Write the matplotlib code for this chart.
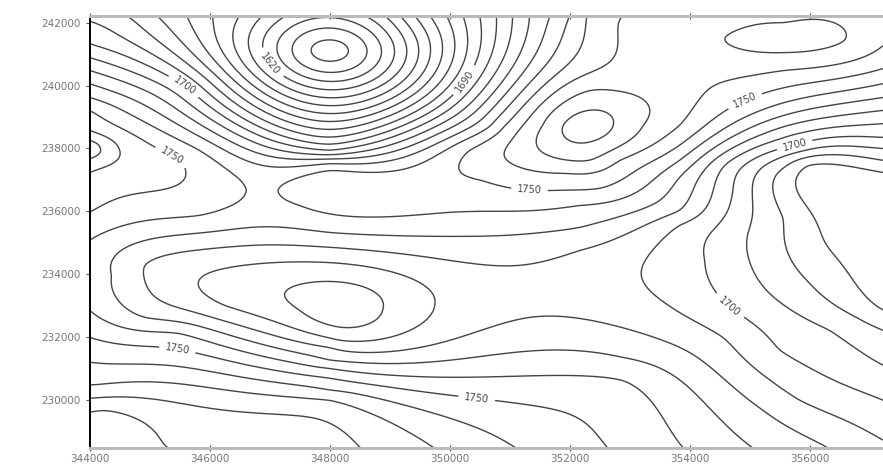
import numpy as np
import matplotlib
matplotlib.use("Agg")
import matplotlib.pyplot as plt

# spot heights (easting m, northing m, value)
ctrl_x = [
    # pit at the top
    348000, 348000, 348000, 348000,
    346050, 349420, 344000, 345580, 350780, 344000, 351670,
    344620, 345120, 345620, 346500, 346880, 347280,
    348580, 348920, 349170, 349670, 349950, 350220, 350500, 351050, 351330,
    # left edge
    344000, 344000, 344000, 344000, 344000, 344000, 344000, 344000, 344000,
    344000, 344000, 344000, 344000, 344000, 344000, 344000, 344000, 344000,
    344000, 344000, 344000, 357220,
    # high on the left edge and saddle
    344170, 344500, 345500, 346630, 345830, 345830, 346870,
    # 1740 loop
    347120, 348000, 349780, 350670, 352000, 347500, 350000, 352170, 353830, 357220,
    # 1750 hairpin
    350550, 350330, 350920, 352280, 351330, 352500, 353830, 354920, 357220,
    # 1760 around the ring
    352880, 351220, 351950, 352830, 353830, 355580, 357220, 354170, 357220,
    352830, 354170,
    # ring near 352300 / 238700
    352300, 351880, 352720, 351550, 353220, 352330, 352330,
    # ellipse top right
    355580, 354580, 356580, 355580, 355580,
    # right edge
    357220, 357220,
    # low on the right
    357220, 355970, 356500, 357000, 357220, 357220,
    355580, 355550, 356000, 356780, 357220, 357220,
    355250, 354970, 355280, 356330, 357220, 357220,
    354720, 354250, 354450, 354670, 355500, 355750, 357220, 357220,
    353200, 353830, 354580, 355670, 357220, 353530, 354550, 355830, 357220,
    # corridor and lower lines
    344920, 348000, 352170, 353830, 348000, 351330, 353550, 355220, 356280,
    344370, 348000, 352170, 353830, 344920, 348000, 351620, 352880, 355030,
    345470, 348000, 352880, 353880,
    345470, 348000, 350450, 352620,
    348000, 351080, 348000, 349720, 348000, 348500, 344220, 345280,
    # ring near 348000 / 232800
    348170, 347500, 348880, 348170, 346250, 349750, 348170, 348170,
]
ctrl_y = [
    241110, 239110, 237940, 237520,
    242220, 242220, 241330, 240000, 242220, 240060, 242220,
    242220, 242220, 242220, 242220, 242220, 242220,
    242220, 242220, 242220, 242220, 242220, 242220, 242220, 242220, 242220,
    242220, 242060, 240890, 240480, 239620, 239210, 238570, 238250, 238000,
    237680, 237240, 235970, 235080, 233970, 232860, 232000, 231210, 230480,
    230060, 229620, 228480, 228480,
    238000, 237940, 237620, 236670, 237940, 235870, 236670,
    236670, 237300, 237780, 238700, 242220, 236190, 235970, 236190, 237620, 240060,
    236980, 237940, 238730, 242220, 236670, 236730, 238100, 239520, 240540,
    242220, 238730, 237210, 237620, 238730, 240480, 241270, 242220, 242220,
    240160, 240480,
    238700, 238700, 238700, 238730, 238730, 239840, 237620,
    241520, 241520, 241430, 241050, 241990,
    239620, 239210,
    235080, 237460, 235080, 233170, 237240, 232860,
    237400, 235810, 233710, 232630, 237620, 232220,
    237460, 235300, 233490, 232220, 238000, 231110,
    236670, 234440, 233400, 232950, 231590, 238100, 238350, 230000,
    233900, 235560, 237460, 238410, 238790, 233170, 232000, 230000, 228730,
    234290, 234860, 234760, 236030, 231680, 232630, 231900, 229680, 228510,
    233970, 235330, 235490, 237080, 232630, 231270, 231590, 231360, 228510,
    232130, 231010, 230630, 228510,
    231620, 230700, 230060, 228510,
    230320, 228510, 230000, 228510, 229270, 228510, 229680, 228510,
    232860, 232860, 232860, 232320, 233010, 233010, 234350, 231900,
]
ctrl_z = [
    1585, 1650, 1700, 1730,
    1650, 1650, 1700, 1700, 1700, 1730, 1730,
    1680, 1670, 1660, 1640, 1630, 1620,
    1620, 1630, 1640, 1660, 1670, 1680, 1690, 1710, 1720,
    1685, 1690, 1710, 1720, 1740, 1750, 1760, 1770, 1780,
    1770, 1760, 1750, 1740, 1735, 1740, 1750, 1760, 1770,
    1780, 1790, 1796, 1712,
    1770, 1760, 1750, 1740, 1740, 1740, 1737,
    1740, 1740, 1740, 1740, 1740, 1740, 1740, 1740, 1740, 1740,
    1750, 1750, 1750, 1750, 1750, 1750, 1750, 1750, 1750,
    1760, 1760, 1760, 1760, 1760, 1760, 1760, 1763, 1762,
    1765, 1763,
    1785, 1780, 1780, 1770, 1770, 1770, 1770,
    1775, 1770, 1770, 1770, 1770,
    1730, 1720,
    1664, 1670, 1667, 1670, 1670, 1670,
    1680, 1680, 1680, 1680, 1680, 1680,
    1690, 1690, 1690, 1690, 1690, 1690,
    1700, 1700, 1700, 1700, 1700, 1700, 1700, 1700,
    1710, 1710, 1710, 1710, 1710, 1710, 1710, 1710, 1710,
    1720, 1720, 1720, 1720, 1720, 1720, 1720, 1720, 1720,
    1730, 1730, 1730, 1730, 1730, 1730, 1730, 1730, 1730,
    1740, 1740, 1740, 1740,
    1750, 1750, 1750, 1750,
    1760, 1760, 1770, 1770, 1780, 1780, 1790, 1790,
    1693, 1700, 1700, 1700, 1710, 1710, 1710, 1710,
]

levels = np.arange(1570, 1800, 10)
xticks = [344000, 346000, 348000, 350000, 352000, 354000, 356000]
yticks = [230000, 232000, 234000, 236000, 238000, 240000, 242000]

# contour label spots (m)
lab_x = [345580, 346970, 350250, 345330, 351330, 354920, 355750, 354670, 345470, 350450]
lab_y = [240000, 240630, 240160, 237620, 236670, 239520, 238100, 233010, 231680, 230060]

# thin plate spline through the spot heights (km units)
px = np.array(ctrl_x) / 1000.0
py = np.array(ctrl_y) / 1000.0
pz = np.array(ctrl_z, dtype=float)
n = len(pz)


def tps_kernel(r):
    with np.errstate(divide='ignore', invalid='ignore'):
        k = r ** 2 * np.log(r)
    return np.nan_to_num(k)


d = np.hypot(px[:, None] - px[None, :], py[:, None] - py[None, :])
A = np.zeros((n + 3, n + 3))
A[:n, :n] = tps_kernel(d) + 0.02 * np.eye(n)
A[:n, n] = 1
A[:n, n + 1] = px
A[:n, n + 2] = py
A[n, :n] = 1
A[n + 1, :n] = px
A[n + 2, :n] = py
rhs = np.concatenate([pz, np.zeros(3)])
coef = np.linalg.solve(A, rhs)

x = np.linspace(344000, 357220, 400)
y = np.linspace(228480, 242220, 300)
X, Y = np.meshgrid(x, y)
gx = X.ravel() / 1000.0
gy = Y.ravel() / 1000.0
Z = coef[n] + coef[n + 1] * gx + coef[n + 2] * gy
for i in range(n):
    Z = Z + coef[i] * tps_kernel(np.hypot(gx - px[i], gy - py[i]))
Z = Z.reshape(X.shape)

fig, ax = plt.subplots(figsize=(8.83, 4.68), dpi=100)
fig.subplots_adjust(left=0.1014, right=1.0, bottom=0.0427, top=0.9665)
cs = ax.contour(X, Y, Z, levels=levels, colors='#444444', linewidths=1.0)
ax.clabel(cs, fmt='%d', fontsize=7, manual=list(zip(lab_x, lab_y)), inline_spacing=6)

ax.set_xlim(344000, 357220)
ax.set_ylim(228480, 242220)
ax.set_xticks(xticks)
ax.set_yticks(yticks)
ax.tick_params(labelsize=7.5, labelcolor='#777777', color='#555555', length=3)
ax.tick_params(axis='x', top=True, direction='inout', length=5, pad=2)
ax.spines['right'].set_visible(False)
ax.spines['left'].set_linewidth(1.4)
for s in ['top', 'bottom']:
    ax.spines[s].set_color('#bbbbbb')
    ax.spines[s].set_linewidth(2.2)

fig.savefig('out.png', dpi=100)
